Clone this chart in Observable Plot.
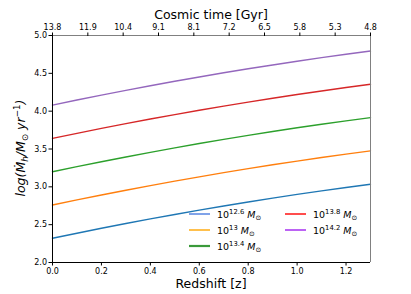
<!DOCTYPE html>
<html><head><meta charset="utf-8">
<script src="https://cdn.jsdelivr.net/npm/d3@7"></script>
<script src="https://cdn.jsdelivr.net/npm/@observablehq/plot@0.6"></script>
<style>body{margin:0;background:#fff}</style>
</head><body><div id="chart"></div>
<script>
const redshift = [0,0.1,0.2,0.3,0.4,0.5,0.6,0.7,0.8,0.9,1.0,1.1,1.2,1.3];
const mass126 = [2.320,2.387,2.452,2.515,2.576,2.635,2.692,2.747,2.800,2.851,2.900,2.947,2.992,3.035];
const mass130 = [2.760,2.827,2.892,2.955,3.016,3.075,3.132,3.187,3.240,3.291,3.340,3.387,3.432,3.475];
const mass134 = [3.200,3.267,3.332,3.395,3.456,3.515,3.572,3.627,3.680,3.731,3.780,3.827,3.872,3.915];
const mass138 = [3.640,3.707,3.772,3.835,3.896,3.955,4.012,4.067,4.120,4.171,4.220,4.267,4.312,4.355];
const mass142 = [4.080,4.147,4.212,4.275,4.336,4.395,4.452,4.507,4.560,4.611,4.660,4.707,4.752,4.795];
const massExponents = ["12.6","13","13.4","13.8","14.2"];
const seriesValues = [mass126, mass130, mass134, mass138, mass142];
const lineColors = ["#1f77b4","#ff7f0e","#2ca02c","#d62728","#9467bd"];
const legendColors = ["#4a7be0","#ffa500","#3a9a3a","#ff0000","#a020f0"];
const xTicks = [0,0.2,0.4,0.6,0.8,1.0,1.2];
const yTicks = [2.0,2.5,3.0,3.5,4.0,4.5,5.0];
const cosmicTimeLabels = ["13.8","11.9","10.4","9.1","8.1","7.2","6.5","5.8","5.3","4.8"];
const cosmicTimeZ = cosmicTimeLabels.map((_, i) => i * 1.3 / 9);

const data = seriesValues.flatMap((vals, k) => vals.map((v, i) => ({z: redshift[i], v, series: massExponents[k]})));

const plot = Plot.plot({
  width: 411, height: 294,
  marginLeft: 52, marginRight: 41, marginTop: 35, marginBottom: 32,
  style: {fontFamily: "DejaVu Sans", fontSize: "8px", color: "#000", background: "#fff", overflow: "visible"},
  x: {domain: [0, 1.3]},
  y: {domain: [2, 5]},
  color: {domain: massExponents, range: lineColors},
  marks: [
    Plot.line(data, {x: "z", y: "v", stroke: "series", z: "series", strokeWidth: 1.4}),
    Plot.ruleX([1.3], {stroke: "#808080", strokeWidth: 1}),
    Plot.ruleY([5], {stroke: "#808080", strokeWidth: 1}),
    Plot.ruleX([0], {stroke: "#000", strokeWidth: 1}),
    Plot.ruleY([2], {stroke: "#000", strokeWidth: 1}),
    Plot.axisX({ticks: xTicks, tickFormat: d => d.toFixed(1), tickSize: 3.5, tickPadding: 2, label: null}),
    Plot.axisX({anchor: "top", ticks: cosmicTimeZ, tickFormat: d => cosmicTimeLabels[Math.round(d * 9 / 1.3)], tickSize: 3.5, tickPadding: 2, label: null}),
    Plot.axisY({ticks: yTicks, tickFormat: d => d.toFixed(1), tickSize: 3.5, tickPadding: 2, label: null})
  ]
});
document.getElementById("chart").append(plot);

const svg = d3.select(plot);
const ff = "DejaVu Sans";
// axis titles
svg.append("text").attr("x", 211).attr("y", 19).attr("text-anchor", "middle")
  .attr("font-family", ff).attr("font-size", 12.5).attr("fill", "#000").text("Cosmic time [Gyr]");
svg.append("text").attr("x", 211).attr("y", 288).attr("text-anchor", "middle")
  .attr("font-family", ff).attr("font-size", 12.5).attr("fill", "#000").text("Redshift [z]");
const yl = svg.append("text").attr("transform", "translate(25,148) rotate(-90)").attr("text-anchor", "middle")
  .attr("font-family", ff).attr("font-size", 12.5).attr("fill", "#000").attr("font-style", "italic");
yl.append("tspan").text("log(Ṁ");
yl.append("tspan").attr("font-size", 8.8).attr("dy", 2.5).text("h");
yl.append("tspan").attr("dy", -2.5).text("/M");
yl.append("tspan").attr("font-size", 8.8).attr("dy", 2.5).attr("font-style", "normal").text("⊙");
yl.append("tspan").attr("dy", -2.5).text(" yr");
yl.append("tspan").attr("font-size", 8.8).attr("dy", -5).attr("font-style", "normal").text("−1");
yl.append("tspan").attr("dy", 5).text(")");

// legend
const legendPos = [[189, 214], [189, 230], [189, 246], [285, 214], [285, 230]];
massExponents.forEach((e, k) => {
  const [lx, ly] = legendPos[k];
  svg.append("line").attr("x1", lx).attr("x2", lx + 21).attr("y1", ly).attr("y2", ly)
    .attr("stroke", legendColors[k]).attr("stroke-width", k === 2 ? 2.2 : 1.4);
  const t = svg.append("text").attr("x", lx + 28).attr("y", ly + 3.5).attr("text-anchor", "start")
    .attr("font-family", ff).attr("font-size", 9.5).attr("fill", "#000");
  t.append("tspan").text("10");
  t.append("tspan").attr("font-size", 6.8).attr("dy", -3.5).text(e);
  t.append("tspan").attr("dy", 3.5).attr("font-style", "italic").text(" M");
  t.append("tspan").attr("font-size", 6.8).attr("dy", 2).text("⊙");
});
</script></body></html>
